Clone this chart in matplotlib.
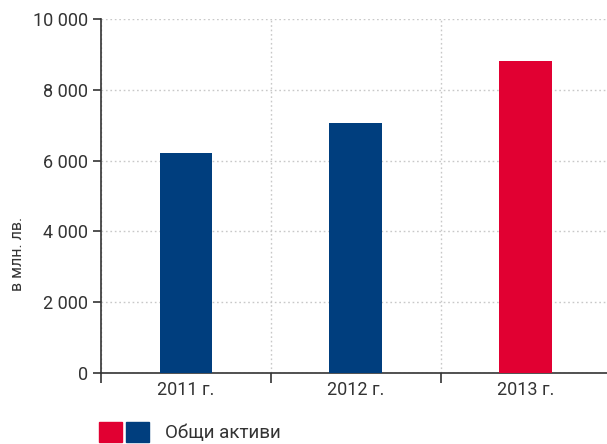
import matplotlib
matplotlib.use("Agg")
import matplotlib.pyplot as plt
from matplotlib.patches import Patch
from matplotlib.legend_handler import HandlerTuple
from matplotlib.ticker import FuncFormatter, FixedLocator

categories = ["2011 г.", "2012 г.", "2013 г."]
values = [6210, 7060, 8810]
bar_colors = ["#003e7e", "#003e7e", "#e10032"]
legend_label = "Общи активи"
y_label = "в млн. лв."

plt.rcParams['font.family'] = ['Roboto', 'DejaVu Sans']
text_color = "#333333"

fig = plt.figure(figsize=(6.07, 4.44), dpi=100)
ax = fig.add_axes([101/607, 71/444, 1 - 101/607, (373-19)/444])

x = list(range(len(categories)))
ax.bar(x, values, width=0.31, color=bar_colors, zorder=3)

ax.set_ylim(0, 10000)
ax.set_xlim(-0.5, 2.48)
ax.set_yticks([0, 2000, 4000, 6000, 8000, 10000])
ax.yaxis.set_major_formatter(FuncFormatter(lambda v, p: f"{int(v):,}".replace(",", " ")))
ax.set_xticks(x)
ax.set_xticklabels(categories)
ax.xaxis.set_minor_locator(FixedLocator([-0.5, 0.5, 1.5, 2.5]))

ax.tick_params(axis='x', which='major', length=0, pad=6, labelsize=13, labelcolor=text_color)
ax.tick_params(axis='x', which='minor', length=7, width=1.2, color="#333333", direction='out')
ax.tick_params(axis='y', which='major', length=6, width=1.2, color="#333333", pad=3,
               labelsize=13, labelcolor=text_color)

ax.grid(axis='y', which='major', linestyle=(0, (1.2, 2)), color="#c8c8c8", linewidth=1, zorder=0)
ax.grid(axis='x', which='minor', linestyle=(0, (1.2, 2)), color="#c8c8c8", linewidth=1, zorder=0)

for s in ['top', 'right']:
    ax.spines[s].set_visible(False)
for s in ['left', 'bottom']:
    ax.spines[s].set_color("#333333")
    ax.spines[s].set_linewidth(1.2)

fig.text(18/607, 1 - 254/444, y_label, rotation=90, ha='center', va='center',
         fontsize=11.5, color=text_color)

handles = [(Patch(color=bar_colors[2]), Patch(color=bar_colors[0]))]
fs = 13.5
fig.legend(handles, [legend_label], handler_map={tuple: HandlerTuple(ndivide=None, pad=0.21)},
           loc='center left', bbox_to_anchor=(99/607, 1 - 432/444), frameon=False,
           fontsize=fs, handlelength=2.67, handleheight=1.23, handletextpad=0.85,
           borderpad=0, borderaxespad=0, labelcolor=text_color)

fig.savefig("out.png", dpi=100)
